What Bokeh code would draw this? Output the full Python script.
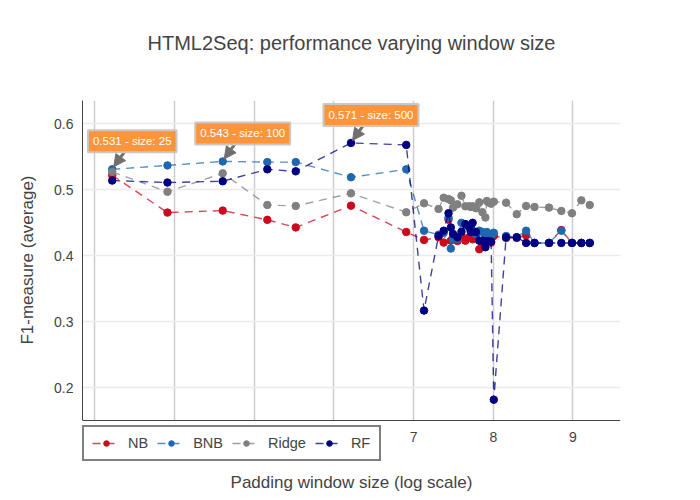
import numpy as np
from bokeh.plotting import figure
from bokeh.models import (ColumnDataSource, FixedTicker, Legend, LegendItem, Label,
                          Arrow, NormalHead, Range1d, Title, BoxAnnotation)
from bokeh.embed import file_html
from bokeh.resources import INLINE

# ---------------- data ----------------
TITLE = "HTML2Seq: performance varying window size"
X_LABEL = "Padding window size (log scale)"
Y_LABEL = "F1-measure (average)"

sizes = [25, 50, 100, 175, 250, 500, 1000,
         1250, 1500, 1600, 1700, 1750, 1800, 1900, 2000,
         2100, 2200, 2250, 2300, 2400, 2500, 2600, 2700, 2750, 2800, 2900, 3000,
         3500, 4000, 4500, 5000, 6000, 7000, 8000, 9000, 10000]

nb = [0.522, 0.4655, 0.4685, 0.4545, 0.443, 0.476, 0.436,
      0.424, 0.428, 0.420, 0.455, 0.423, 0.426, 0.4225, 0.431,
      0.423, 0.428, 0.437, 0.425, 0.430, 0.410, 0.418, 0.420, 0.4205, 0.428, 0.420, 0.430,
      0.427, 0.427, 0.431, 0.4195, 0.4195, 0.439, 0.4195, 0.4195, 0.4195]

bnb = [0.531, 0.537, 0.543, 0.542, 0.542, 0.519, 0.531,
       0.438, 0.432, 0.435, 0.458, 0.411, 0.426, 0.426, 0.450,
       0.447, 0.443, 0.445, 0.438, 0.433, 0.438, 0.436, 0.430, 0.436, 0.433, 0.430, 0.435,
       0.430, 0.428, 0.438, 0.4195, 0.4195, 0.438, 0.4195, 0.4195, 0.4195]

ridge = [0.527, 0.497, 0.525, 0.477, 0.4755, 0.4947, 0.466,
         0.4796, 0.471, 0.488, 0.486, 0.484, 0.473, 0.478, 0.491,
         0.475, 0.475, 0.474, 0.475, 0.472, 0.481, 0.466, 0.458, 0.483, 0.481, 0.479, 0.482,
         0.4805, 0.463, 0.4755, 0.474, 0.473, 0.468, 0.4645, 0.484, 0.477]

rf = [0.514, 0.511, 0.513, 0.531, 0.528, 0.571, 0.568,
      0.317, 0.430, 0.438, 0.4645, 0.443, 0.433, 0.428, 0.4365,
      0.448, 0.444, 0.436, 0.450, 0.436, 0.423, 0.423, 0.413, 0.422, 0.422, 0.4215, 0.182,
      0.428, 0.428, 0.4195, 0.4195, 0.4195, 0.4195, 0.4195, 0.4195, 0.4195]

series_names = ["NB", "BNB", "Ridge", "RF"]
series_values = [nb, bnb, ridge, rf]
series_colors = ["#cc0a1e", "#1f68b0", "#808080", "#000080"]

x_grid_ticks = [3, 4, 5, 6, 7, 8, 9]
x_label_ticks = [7, 8, 9]
y_ticks = [0.2, 0.3, 0.4, 0.5, 0.6]

# annotations: (series index, point index)
annotations = [(1, 0), (1, 2), (3, 5)]

FONT = "Liberation Sans"
TEXT = "#444444"

x = np.log(np.array(sizes, dtype=float))

# axis extents (visible data window) and the extended frame bottom
X_MIN, X_MAX = 2.846, 9.596
Y_AXIS_MIN, Y_MAX = 0.1505, 0.6353
Y_FRAME_MIN = 0.0323

p = figure(width=700, height=500, output_backend="svg", toolbar_location=None,
           x_range=Range1d(X_MIN, X_MAX), y_range=Range1d(Y_FRAME_MIN, Y_MAX),
           min_border_left=80, min_border_right=80, min_border_top=100, min_border_bottom=2)
p.title = None
p.outline_line_color = None
p.background_fill_color = "white"
p.border_fill_color = "white"

# spacer + title
p.add_layout(Title(text=" ", text_font_size="2px", standoff=38), "above")
p.add_layout(Title(text=TITLE, align="center", text_font=FONT, text_font_size="20px",
                   text_font_style="normal", text_color=TEXT, standoff=10), "above")

for ax in (p.xaxis[0], p.yaxis[0]):
    ax.axis_label_text_font = FONT
    ax.axis_label_text_font_size = "17px"
    ax.axis_label_text_font_style = "normal"
    ax.axis_label_text_color = TEXT
    ax.major_label_text_font = FONT
    ax.major_label_text_font_size = "14px"
    ax.major_label_text_color = TEXT
    ax.major_tick_line_color = None
    ax.minor_tick_line_color = None
    ax.axis_line_color = TEXT
    ax.axis_line_width = 1

p.xaxis.fixed_location = Y_AXIS_MIN
p.xaxis.axis_label = X_LABEL
p.xaxis.ticker = FixedTicker(ticks=x_label_ticks)
p.xaxis.major_label_standoff = 6
p.xaxis.axis_label_standoff = 27

p.yaxis.ticker = FixedTicker(ticks=y_ticks)
p.yaxis.bounds = (Y_AXIS_MIN, Y_MAX)
p.yaxis.major_label_standoff = 3
p.add_layout(Title(text=Y_LABEL, align="right", offset=75, standoff=30,
                   text_font=FONT, text_font_size="17px", text_font_style="normal",
                   text_color=TEXT), "left")

p.xgrid.ticker = FixedTicker(ticks=x_grid_ticks)
p.xgrid.grid_line_color = "#cccccc"
p.xgrid.grid_line_width = 1.5
p.ygrid.grid_line_color = "#ebebeb"
p.ygrid.grid_line_width = 1.5

# white cover below the x axis (hides grid lines outside the data window)
p.add_layout(BoxAnnotation(top=Y_AXIS_MIN, fill_color="white", fill_alpha=1.0,
                           line_color=None, level="underlay"))

items = []
for name, vals, col in zip(series_names, series_values, series_colors):
    src = ColumnDataSource(dict(x=x, y=vals))
    ln = p.line("x", "y", source=src, line_color=col, line_width=1.4, line_alpha=0.75,
                line_dash="8 6")
    sc = p.scatter("x", "y", source=src, size=7.5, fill_color=col, line_color=col)
    items.append(LegendItem(label=name, renderers=[ln, sc]))

legend = Legend(items=items, orientation="horizontal", location=(0, 37),
                border_line_color="#808080", border_line_width=2, border_line_alpha=1.0,
                background_fill_color="white", background_fill_alpha=1.0,
                label_text_font=FONT, label_text_font_size="14.5px", label_text_color=TEXT,
                glyph_width=28, glyph_height=14, label_standoff=8, spacing=9,
                padding=8, margin=0)
p.add_layout(legend)

XS = 80.0   # px per x unit
YS = 660.0  # px per y unit
for si, pi in annotations:
    px_ = x[pi]
    py_ = series_values[si][pi]
    txt = f"{py_:.3f} - size: {sizes[pi]}"
    p.add_layout(Arrow(end=NormalHead(size=12, fill_color="#707070", line_color="#707070"),
                       x_start=px_ + 12 / XS, y_start=py_ + 17 / YS,
                       x_end=px_ + 1.5 / XS, y_end=py_ + 2.5 / YS,
                       line_color="#707070", line_width=3))
    p.add_layout(Label(x=px_, y=py_, x_offset=20, y_offset=17, text=txt,
                       text_align="center", text_baseline="bottom",
                       text_font=FONT, text_font_size="11.5px", text_color="white",
                       background_fill_color="#ff8c2a", background_fill_alpha=0.92,
                       border_line_color="#c8c8c8", border_line_width=2, padding=5))

open("out.html", "w").write(file_html(p, INLINE))
